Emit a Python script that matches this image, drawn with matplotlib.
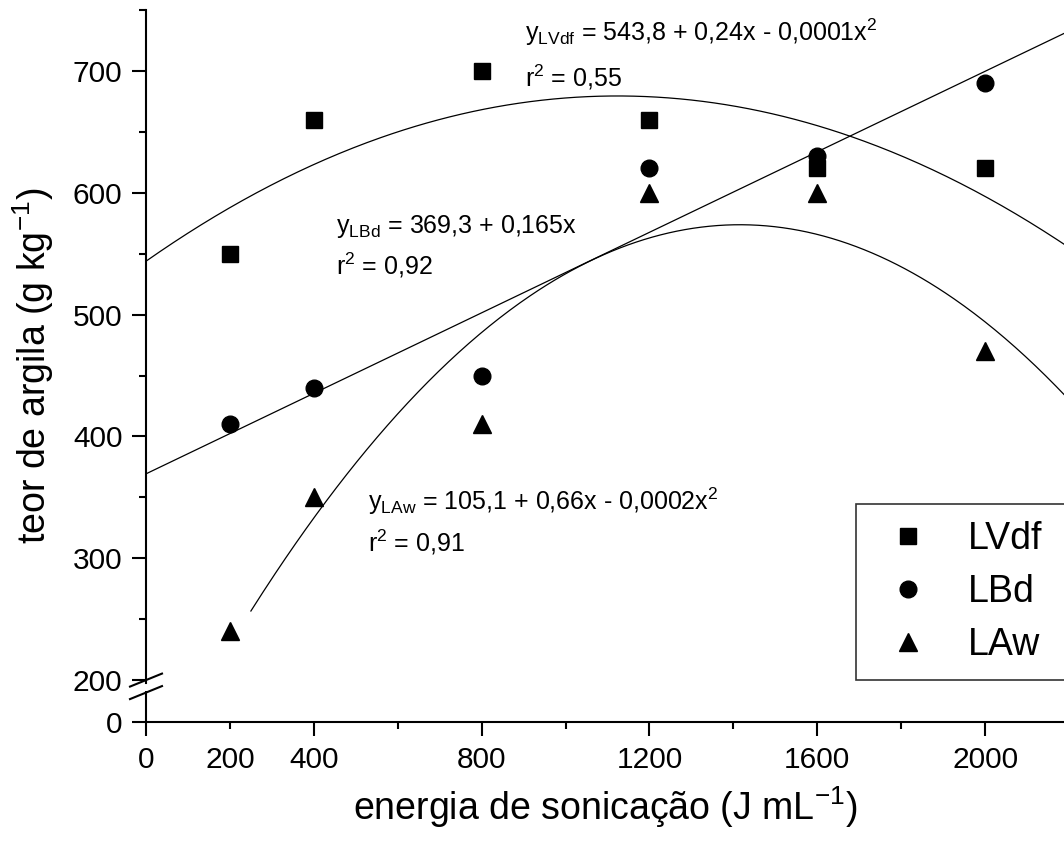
import numpy as np
import matplotlib
matplotlib.use("Agg")
import matplotlib.pyplot as plt
from matplotlib.ticker import FixedLocator, FixedFormatter, NullFormatter

plt.rcParams['font.family'] = ['Liberation Sans', 'DejaVu Sans']
plt.rcParams['mathtext.fontset'] = 'custom'
plt.rcParams['mathtext.rm'] = 'Liberation Sans'
plt.rcParams['mathtext.it'] = 'Liberation Sans:italic'

# ---- data ----
energy = [200, 400, 800, 1200, 1600, 2000]
lvdf = [550, 660, 700, 660, 620, 620]
lbd = [410, 440, 450, 620, 630, 690]
law = [240, 350, 410, 600, 600, 470]
series_names = ["LVdf", "LBd", "LAw"]
x_major = [0, 400, 800, 1200, 1600, 2000]
x_minor = [200, 600, 1000, 1400, 1800]
x_minor_labels = ['200', '', '', '', '']
y_ticks = [0, 200, 300, 400, 500, 600, 700]
y_minor = [250, 350, 450, 550, 650, 750]

# broken-axis scale: values below 200 are compressed
BREAK = 200.0
SQ = 0.172


def fwd(y):
    y = np.asarray(y, dtype=float)
    return np.where(y >= BREAK, y, BREAK - (BREAK - y) * SQ)


def inv(u):
    u = np.asarray(u, dtype=float)
    return np.where(u >= BREAK, u, BREAK - (BREAK - u) / SQ)


W, H = 1064, 850
fig = plt.figure(figsize=(W / 100, H / 100), dpi=100)
ax = fig.add_axes([146 / W, 1 - 722 / H, 1 - 146 / W, (722 - 10) / H])
ax.set_yscale('function', functions=(fwd, inv))
ax.set_xlim(0, 2188)
ax.set_ylim(0, 750)

# fitted curves
x = np.array(energy, dtype=float)
c1 = np.polyfit(x, lvdf, 2)
c2 = np.polyfit(x, lbd, 1)
c3 = np.polyfit(x, law, 2)
xs = np.linspace(0, 2188, 400)
xs3 = np.linspace(250, 2188, 400)
ax.plot(xs, np.polyval(c1, xs), color='black', lw=0.9, zorder=2)
ax.plot(xs, np.polyval(c2, xs), color='black', lw=0.9, zorder=2)
ax.plot(xs3, np.polyval(c3, xs3), color='black', lw=0.9, zorder=2)

ax.plot(energy, lvdf, 's', color='black', ms=11, ls='none', label=series_names[0], zorder=3)
ax.plot(energy, lbd, 'o', color='black', ms=12, ls='none', label=series_names[1], zorder=3)
ax.plot(energy, law, '^', color='black', ms=13, ls='none', label=series_names[2], zorder=3)

# spines / ticks
SPW = 1.5
for s in ['top', 'right']:
    ax.spines[s].set_visible(False)
ax.spines['left'].set_linewidth(SPW)
ax.spines['bottom'].set_linewidth(SPW)
ax.spines['left'].set_bounds(186, 750)

ax.xaxis.set_major_locator(FixedLocator(x_major))
ax.xaxis.set_major_formatter(FixedFormatter([str(v) for v in x_major]))
ax.xaxis.set_minor_locator(FixedLocator(x_minor))
ax.xaxis.set_minor_formatter(FixedFormatter(x_minor_labels))

ax.yaxis.set_major_locator(FixedLocator(y_ticks))
ax.yaxis.set_major_formatter(FixedFormatter([str(v) for v in y_ticks]))
ax.yaxis.set_minor_locator(FixedLocator(y_minor))
ax.yaxis.set_minor_formatter(NullFormatter())

ax.tick_params(axis='both', which='major', length=10, width=SPW, labelsize=21.5, direction='out')
ax.tick_params(axis='both', which='minor', length=5, width=SPW, labelsize=21.5, direction='out')
ax.tick_params(axis='y', which='major', pad=7)
ax.tick_params(axis='x', which='major', pad=7)
ax.tick_params(axis='x', which='minor', pad=12)

# lower spine piece (below the break)
ax.plot([0, 0], [0, 150], color='black', lw=SPW, transform=ax.get_yaxis_transform(),
        clip_on=False, solid_capstyle='butt')

# break marks
fig.canvas.draw()
def to_axes(yv):
    disp = ax.transData.transform((0, yv))
    return ax.transAxes.inverted().transform(disp)[1]
ax_w = ax.get_window_extent().width
ax_h = ax.get_window_extent().height
y200 = to_axes(200)
dx = 16 / ax_w
dy = 6.5 / ax_h
gap = 12.5 / ax_h
for off in (0, -gap):
    ax.plot([-dx, dx], [y200 + off - dy, y200 + off + dy], color='black', lw=SPW,
            transform=ax.transAxes, clip_on=False)

# labels
ax.set_xlabel('energia de sonicação (J mL$^{\\mathregular{-1}}$)', fontsize=27, labelpad=8)
ax.set_ylabel('teor de argila (g kg$^{\\mathregular{-1}}$)', fontsize=27, labelpad=12)

# equations
eq_fs = 18
fig.text(525 / W, 1 - 32 / H, r'y$_{\mathregular{LVdf}}$ = 543,8 + 0,24x - 0,0001x$^{\mathregular{2}}$',
         fontsize=eq_fs, va='center', ha='left')
fig.text(525 / W, 1 - 77 / H, r'r$^{\mathregular{2}}$ = 0,55', fontsize=eq_fs, va='center', ha='left')
fig.text(336 / W, 1 - 227 / H, r'y$_{\mathregular{LBd}}$ = 369,3 + 0,165x',
         fontsize=eq_fs, va='center', ha='left')
fig.text(336 / W, 1 - 265 / H, r'r$^{\mathregular{2}}$ = 0,92', fontsize=eq_fs, va='center', ha='left')
fig.text(368 / W, 1 - 501 / H, r'y$_{\mathregular{LAw}}$ = 105,1 + 0,66x - 0,0002x$^{\mathregular{2}}$',
         fontsize=eq_fs, va='center', ha='left')
fig.text(368 / W, 1 - 542 / H, r'r$^{\mathregular{2}}$ = 0,91', fontsize=eq_fs, va='center', ha='left')

# legend: box runs past the right edge of the figure, as in the reference
leg = ax.legend(loc='lower left', bbox_to_anchor=(856 / W, 1 - 680 / H, 260 / W, 0.0),
                bbox_transform=fig.transFigure, mode='expand',
                fontsize=27, frameon=True, fancybox=False, borderaxespad=0, borderpad=0.45,
                handletextpad=0.67, labelspacing=0.46, handlelength=1.87)
leg.get_frame().set_edgecolor('black')
leg.get_frame().set_linewidth(1.2)

fig.savefig('out.png', dpi=100)
